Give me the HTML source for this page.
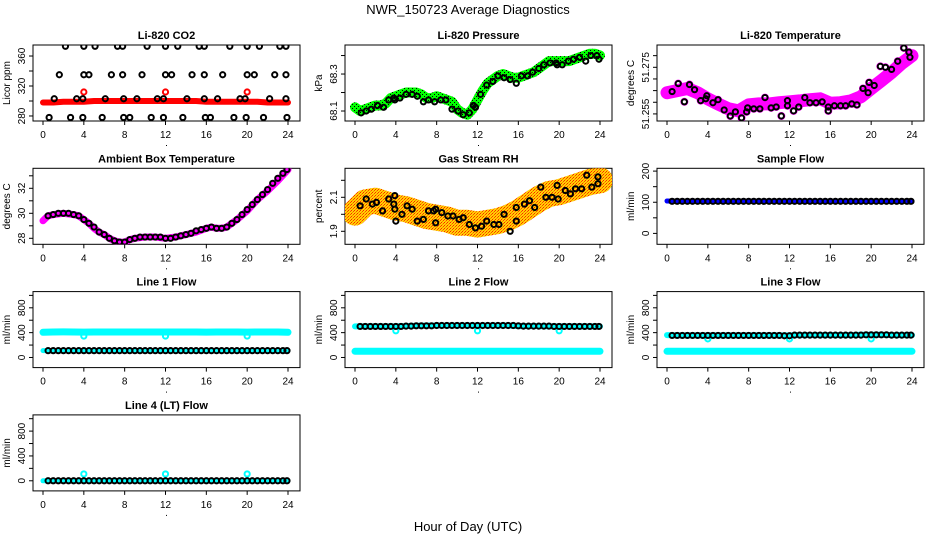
<!DOCTYPE html>
<html><head><meta charset="utf-8"><style>
html,body{margin:0;padding:0;background:#fff}
svg{display:block;font-family:"Liberation Sans",sans-serif}
</style></head><body>
<svg id="c" width="936" height="540" viewBox="0 0 936 540">
<defs>
<pattern id="dGreen" width="4" height="4" patternUnits="userSpaceOnUse"><rect width="4" height="4" fill="#00ff00"/><rect width="1" height="1" fill="#000"/><rect x="2" y="2" width="1" height="1" fill="#000"/></pattern>
<pattern id="dOrange" width="3" height="3" patternUnits="userSpaceOnUse"><rect width="3" height="3" fill="#ffd400"/><rect width="1" height="1" fill="#ff2000"/><rect x="2" y="1" width="1" height="1" fill="#ff4000"/><rect x="1" y="2" width="1" height="1" fill="#ff8000"/></pattern>
</defs>
<text x="468" y="14" text-anchor="middle" font-size="13">NWR_150723  Average Diagnostics</text>
<text x="468" y="531" text-anchor="middle" font-size="13">Hour of Day (UTC)</text>
</svg>
<script>
// ---------- data ----------
const h05 = [0.5,1,1.5,2,2.5,3,3.5,4,4.5,5,5.5,6,6.5,7,7.5,8,8.5,9,9.5,10,10.5,11,11.5,12,12.5,13,13.5,14,14.5,15,15.5,16,16.5,17,17.5,18,18.5,19,19.5,20,20.5,21,21.5,22,22.5,23,23.5,23.9];
const hourly = [0,1,2,3,4,5,6,7,8,9,10,11,12,13,14,15,16,17,18,19,20,21,22,23,24];
const xTicks = [0,4,8,12,16,20,24];

// CO2
const co2Hours = [2.2,4,5.1,7.3,7.8,10.2,12,13.2,15.3,15.8,18.3,20,21.2,23.2,23.8, 1.6,4,4.5,6.7,7.8,9.7,12,12.6,14.6,15.8,17.6,20,20.7,22.7,23.8, 1.1,3.3,3.9,6.1,7.9,9.2,11.2,11.8,14.1,15.8,17.1,19.3,19.8,22.2,23.8, 0.6,2.7,3.9,5.8,7.9,8.5,10.6,11.8,13.7,15.9,16.4,18.7,19.9,21.6,23.9];
const co2Vals = [373,373,373,373,373,373,373,373,373,373,373,373,373,373,373, 335,335,335,335,335,335,335,335,335,335,335,335,335,335,335, 303,303,303,303,303,303,303,303,303,303,303,303,303,303,303, 278,278,278,278,278,278,278,278,278,278,278,278,278,278,278];
const co2Band = [298,298,299,299,299,300,300,300,300,300,300,300,300,300,300,300,299,299,299,299,299,299,298,298,298];
const co2OutH = [4,12,20];
const co2OutV = [312,312,312];

// Pressure
const presBandH = [0,0.5,1,1.5,2,2.5,3,3.5,4,4.5,5,5.5,6,6.5,7,7.5,8,8.5,9,9.5,10,10.5,11,11.5,12,12.5,13,13.5,14,14.5,15,15.5,16,16.5,17,17.5,18,18.5,19,19.5,20,20.5,21,21.5,22,22.5,23,23.5,24];
const presBand = [68.12,68.10,68.11,68.12,68.13,68.13,68.14,68.17,68.18,68.19,68.20,68.20,68.20,68.19,68.17,68.17,68.18,68.17,68.16,68.15,68.11,68.09,68.08,68.11,68.16,68.21,68.25,68.27,68.29,68.30,68.29,68.28,68.28,68.29,68.30,68.31,68.33,68.35,68.37,68.37,68.37,68.37,68.37,68.38,68.39,68.40,68.41,68.41,68.40];
const presHours = [0.6,1.1,1.6,2.2,2.8,3.3,3.8,3.9,4.4,5.0,5.6,6.1,6.7,7.2,7.8,8.4,8.9,9.5,10.1,10.6,11.2,11.6,11.8,12.3,12.9,13.5,14.0,14.6,15.2,15.8,16.3,16.9,17.4,18.0,18.5,19.1,19.7,19.8,20.3,20.9,21.4,22.0,22.6,23.1,23.7,23.9];
const presVals = [68.09,68.10,68.11,68.13,68.12,68.16,68.17,68.16,68.17,68.19,68.19,68.18,68.15,68.16,68.15,68.16,68.16,68.11,68.10,68.08,68.09,68.13,68.12,68.19,68.24,68.26,68.29,68.28,68.27,68.25,68.29,68.29,68.31,68.33,68.35,68.36,68.36,68.35,68.35,68.37,68.38,68.39,68.37,68.40,68.40,68.38];

// Li-820 temperature
const tempBand = [51.2641,51.2650,51.2659,51.2641,51.2615,51.2593,51.2572,51.2563,51.2589,51.2593,51.2593,51.2598,51.2602,51.2606,51.2611,51.2615,51.2596,51.2598,51.2606,51.2624,51.2659,51.2693,51.2728,51.2767,51.2800];
const tempHours = [0.5,1.1,1.7,2.2,2.7,3.3,3.8,3.9,4.5,5.0,5.6,6.2,6.7,7.3,7.8,7.9,8.5,9.1,9.6,10.2,10.7,11.2,11.8,11.8,12.4,12.9,13.5,14.0,14.6,15.2,15.8,15.8,16.4,17.0,17.5,18.1,18.6,19.2,19.7,19.8,20.3,20.9,21.4,22.0,22.6,23.2,23.7,23.8];
const tempVals = [51.2646,51.2680,51.2602,51.2676,51.2654,51.2607,51.2615,51.2628,51.2598,51.2611,51.2567,51.2541,51.2559,51.2533,51.2559,51.2576,51.2572,51.2572,51.2620,51.2576,51.2580,51.2541,51.2585,51.2607,51.2563,51.2580,51.2620,51.2598,51.2598,51.2602,51.2580,51.2563,51.2585,51.2585,51.2585,51.2593,51.2589,51.2659,51.2641,51.2685,51.2672,51.2754,51.2750,51.2741,51.2776,51.2833,51.2815,51.2793];

// Ambient box temperature
const ambBandH = [0,0.5,1,2,3,3.5,4,4.5,5,5.5,6,6.5,7,7.5,8,8.5,9,10,11,12,13,14,15,16,16.5,17,17.5,18,19,20,21,22,23,24];
const ambBand = [29.4,29.8,29.9,30.0,29.9,29.8,29.5,29.2,28.8,28.5,28.3,28.0,27.8,27.7,27.7,27.9,28.0,28.1,28.1,28.0,28.1,28.3,28.5,28.8,28.9,28.8,28.8,28.9,29.5,30.2,31.1,31.8,32.6,33.5];
const ambVals = [29.8,29.9,30.0,30.0,30.0,29.9,29.8,29.5,29.2,28.9,28.5,28.3,28.0,27.8,27.7,27.7,27.9,28.0,28.1,28.1,28.1,28.1,28.1,28.0,28.0,28.1,28.2,28.3,28.4,28.6,28.7,28.8,28.9,28.8,28.8,28.9,29.2,29.5,29.9,30.3,30.7,31.1,31.5,31.9,32.4,32.8,33.2,33.5];

// Gas stream RH
const rhBand = [2.01,2.07,2.08,2.06,2.04,2.03,2.01,1.99,1.98,1.97,1.95,1.95,1.94,1.95,1.96,1.98,2.01,2.05,2.09,2.12,2.13,2.15,2.17,2.19,2.20];
const rhHours = [0.5,1.1,1.7,2.1,2.7,3.3,3.8,3.9,3.9,4,4.6,5.1,5.6,6.1,6.7,7.2,7.7,7.9,7.9,8.5,9.1,9.6,10.2,10.6,11.2,11.8,12.4,12.9,13.6,14.1,14.6,15.2,15.8,15.8,16.6,17.1,17.6,18.2,18.7,19.3,19.8,19.9,20.6,21.1,21.6,22.2,22.7,23.2,23.8,23.8];
const rhVals = [2.05,2.09,2.06,2.07,2.02,2.09,2.06,2.11,2.03,1.96,2.00,2.05,2.03,1.96,1.97,2.02,2.02,2.03,1.95,2.01,1.99,1.99,1.97,1.98,1.94,1.92,1.93,1.96,1.94,1.94,2.00,1.90,2.04,1.96,2.06,2.08,2.04,2.16,2.10,2.10,2.17,2.09,2.14,2.12,2.15,2.15,2.23,2.16,2.18,2.22];

// Sample flow
const sampBlue = [104,103,103,103,104,103,103,103,104,103,103,103,104,103,103,103,104,103,103,103,104,103,103,103,103];
const sampBlack = [103,103,103,103,103,103,103,103,103,103,103,103,103,103,103,103,103,103,103,103,103,103,103,103,103,103,103,103,103,103,103,103,103,103,103,103,103,103,103,103,103,103,103,103,103,103,103,103];

// Line flows
const l1Upper = [405,410,412,410,408,410,410,410,410,410,410,410,410,410,410,410,408,410,410,410,408,410,410,410,405];
const l1Lower = [110,110,110,110,110,110,110,110,110,110,110,110,110,110,110,110,110,110,110,110,110,110,110,110,110];
const l1Black = [110,110,110,110,110,110,110,110,110,110,110,110,110,110,110,110,110,110,110,110,110,110,110,110,110,110,110,110,110,110,110,110,110,110,110,110,110,110,110,110,110,110,110,110,110,110,110,110];
const l2Upper = [500,500,500,500,500,505,510,515,515,515,515,515,515,515,515,515,505,505,505,500,500,500,500,500,500];
const l2Lower = [100,100,100,100,100,100,100,100,100,100,100,100,100,100,100,100,100,100,100,100,100,100,100,100,100];
const l2Black = [500,500,500,500,500,500,500,500,500,505,505,510,510,510,510,515,515,515,515,515,515,515,515,515,515,515,515,515,515,515,515,510,505,505,505,505,505,505,500,500,500,500,500,500,500,500,500,500];
const l3Upper = [360,355,355,355,355,355,355,355,355,355,355,355,355,360,360,360,360,360,360,365,365,365,360,360,360];
const l3Lower = [100,100,100,100,100,100,100,100,100,100,100,100,100,100,100,100,100,100,100,100,100,100,100,100,100];
const l3Black = [355,355,355,355,355,355,355,355,355,355,355,355,355,355,355,355,355,355,355,355,355,355,350,350,360,360,360,360,360,360,360,360,360,360,360,360,360,360,365,365,365,365,365,360,360,360,360,360];
const l4Cyan = [0,0,0,0,0,0,0,0,0,0,0,0,0,0,0,0,0,0,0,0,0,0,0,0,0];
const l4Black = [0,0,0,0,0,0,0,0,0,0,0,0,0,0,0,0,0,0,0,0,0,0,0,0,0,0,0,0,0,0,0,0,0,0,0,0,0,0,0,0,0,0,0,0,0,0,0,0];
const dipHours = [4,12,20];
const l1Dips = [345,345,345];
const l2Dips = [430,430,430];
const l3Dips = [300,300,300];
const l4Spikes = [110,110,110];

// ---------- drawing ----------
const svg = document.getElementById('c');
const NS = 'http://www.w3.org/2000/svg';
function mk(tag, attrs, parent){
  const e = document.createElementNS(NS, tag);
  for (const k in attrs) e.setAttribute(k, attrs[k]);
  (parent||svg).appendChild(e);
  return e;
}
function panel(col,row,title,ylab,vBot,vTop,ticks,labels,name){
  const L = 33+312*col, R = 300+312*col;
  const T = 45+123.3*row, B = T+76;
  const g = mk('g',{});
  
  
  const p = {g:g,
    x: h => (43+312*col) + h/24*245,
    y: v => B - (v-vBot)/(vTop-vBot)*76};
  const t = mk('text',{x:(L+R)/2,y:T-6,'text-anchor':'middle','font-size':'11','font-weight':'bold'},g);
  t.textContent = title;
  
  
  const box = mk('rect',{x:L,y:T,width:R-L,height:B-T,fill:'none',stroke:'#000','stroke-width':1},g);
  
  
  xTicks.forEach(h=>{
    const x = p.x(h);
    mk('line',{x1:x,x2:x,y1:B,y2:B+4,stroke:'#000'},g);
    const tl = mk('text',{x:x,y:B+17,'text-anchor':'middle','font-size':'10'},g);
    tl.textContent = h;
    
    
  });
  mk('rect',{x:(L+R)/2-0.5,y:B+24,width:1,height:1,fill:'#000'},g);
  ticks.forEach(v=>{
    const y = p.y(v);
    mk('line',{x1:L-4,x2:L,y1:y,y2:y,stroke:'#000'},g);
  });
  labels.forEach(lb=>{
    const y = p.y(lb[0]);
    const tl = mk('text',{x:0,y:0,'text-anchor':'middle','font-size':'10',transform:`translate(${L-8},${y}) rotate(-90)`},g);
    tl.textContent = lb[1];
    
    
  });
  const yl = mk('text',{x:0,y:0,'text-anchor':'middle','font-size':'10',transform:`translate(${L-23},${(T+B)/2}) rotate(-90)`},g);
  yl.textContent = ylab;
  
  
  const clip = mk('clipPath',{id:'cp'+name},g);
  mk('rect',{x:L,y:T,width:R-L,height:B-T},clip);
  p.plot = mk('g',{'clip-path':`url(#cp${name})`},g);
  return p;
}
function band(p,hs,vs,color,w,nm){
  const pts = hs.map((h,i)=>p.x(h).toFixed(1)+','+p.y(vs[i]).toFixed(1)).join(' ');
  const e = mk('polyline',{points:pts,fill:'none',stroke:color,'stroke-width':w,'stroke-linejoin':'round','stroke-linecap':'round'},p.plot);
  
  
}
function pts(p,hs,vs,color,nm,r){
  hs.forEach((h,i)=>{
    const c = mk('circle',{cx:p.x(h),cy:p.y(vs[i]),r:r||2.6,fill:'none',stroke:color,'stroke-width':2},p.plot);
    
    
  });
}

let p;
p = panel(0,0,'Li-820 CO2','Licor ppm',273.3,374.7,[280,300,320,340,360],[[280,'280'],[320,'320'],[360,'360']],'co2');
band(p,hourly,co2Band,'#ff0000',6,'co2-band');
pts(p,co2OutH,co2OutV,'#ff0000','co2-outlier');
pts(p,co2Hours,co2Vals,'#000','co2-point');

p = panel(1,0,'Li-820 Pressure','kPa',68.046,68.457,[68.1,68.2,68.3,68.4],[[68.1,'68.1'],[68.3,'68.3']],'pressure');
band(p,presBandH,presBand,'url(#dGreen)',10,'pressure-band');
pts(p,presHours,presVals,'#000','pressure-point');

p = panel(2,0,'Li-820 Temperature','degrees C',51.25196,51.28457,[51.255,51.26,51.265,51.27,51.275,51.28],[[51.255,'51.255'],[51.275,'51.275']],'li820-temp');
band(p,hourly,tempBand,'#ff00ff',13,'li820-temp-band');
pts(p,tempHours,tempVals,'#ff00ff','li820-temp-scatter',3);
pts(p,tempHours,tempVals,'#000','li820-temp-point');

p = panel(0,1,'Ambient Box Temperature','degrees C',27.52,33.6,[28,29,30,31,32,33],[[28,'28'],[30,'30'],[32,'32']],'ambient');
band(p,ambBandH,ambBand,'#ff00ff',7,'ambient-band');
pts(p,h05,ambVals,'#000','ambient-point');

p = panel(1,1,'Gas Stream RH','percent',1.8235,2.2706,[1.9,2.0,2.1,2.2],[[1.9,'1.9'],[2.1,'2.1']],'rh');
band(p,hourly,rhBand,'url(#dOrange)',26,'rh-band');
pts(p,rhHours,rhVals,'#000','rh-point');

p = panel(2,1,'Sample Flow','ml/min',-35,209,[0,50,100,150,200],[[0,'0'],[100,'100'],[200,'200']],'sample-flow');
band(p,hourly,sampBlue,'#0000ff',5,'sample-flow-band');
pts(p,h05,sampBlack,'#000','sample-flow-point');

const fT = [0,200,400,600,800,1000], fL = [[0,'0'],[400,'400'],[800,'800']];
p = panel(0,2,'Line 1 Flow','ml/min',-163,1061,fT,fL,'line1');
band(p,hourly,l1Upper,'#00ffff',7,'line1-upper-band');
band(p,hourly,l1Lower,'#00ffff',5,'line1-lower-band');
pts(p,dipHours,l1Dips,'#00ffff','line1-dip');
pts(p,h05,l1Black,'#000','line1-point');

p = panel(1,2,'Line 2 Flow','ml/min',-163,1061,fT,fL,'line2');
band(p,hourly,l2Upper,'#00ffff',6,'line2-upper-band');
band(p,hourly,l2Lower,'#00ffff',7,'line2-lower-band');
pts(p,dipHours,l2Dips,'#00ffff','line2-dip');
pts(p,h05,l2Black,'#000','line2-point');

p = panel(2,2,'Line 3 Flow','ml/min',-163,1061,fT,fL,'line3');
band(p,hourly,l3Upper,'#00ffff',6,'line3-upper-band');
band(p,hourly,l3Lower,'#00ffff',7,'line3-lower-band');
pts(p,dipHours,l3Dips,'#00ffff','line3-dip');
pts(p,h05,l3Black,'#000','line3-point');

p = panel(0,3,'Line 4 (LT) Flow','ml/min',-163,1061,fT,fL,'line4');
band(p,hourly,l4Cyan,'#00ffff',5,'line4-band');
pts(p,dipHours,l4Spikes,'#00ffff','line4-spike');
pts(p,h05,l4Black,'#000','line4-point');
</script>
</body></html>
